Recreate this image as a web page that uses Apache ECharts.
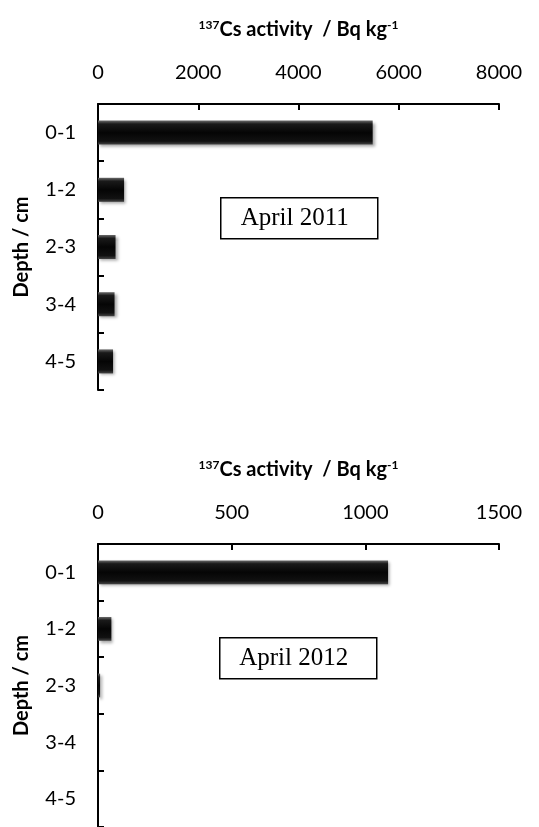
<!DOCTYPE html>
<html>
<head>
<meta charset="utf-8">
<script src="https://cdn.jsdelivr.net/npm/echarts@6/dist/echarts.min.js"></script>
<style>
html,body{margin:0;padding:0;background:#fff;}
#c{width:539px;height:827px;}
</style>
</head>
<body>
<div id="c"></div>
<script>
const depths = ['0-1', '1-2', '2-3', '3-4', '4-5'];
const activity2011 = [5480, 520, 350, 330, 300];
const activity2012 = [1085, 50, 8, 0, 0];
const ticks2011 = {min: 0, max: 8000, interval: 2000};
const ticks2012 = {min: 0, max: 1500, interval: 500};
const boxLabels = ['April 2011', 'April 2012'];

const chart = echarts.init(document.getElementById('c'));
const sans = 'Lato, "Open Sans", sans-serif';

const xTitle = {
  formatter: '{sup|137}{b|Cs activity  / Bq kg}{sup|-1}',
  rich: {
    b: {fontFamily: sans, fontWeight: 'bold', fontSize: 20, color: '#000'},
    sup: {fontFamily: sans, fontWeight: 'bold', fontSize: 12, color: '#000', verticalAlign: 'top', padding: [0, 0, 9, 0]}
  }
};

function xAxisFor(idx, t) {
  return {
    gridIndex: idx, type: 'value', position: 'top',
    min: t.min, max: t.max, interval: t.interval,
    name: xTitle.formatter, nameLocation: 'middle', nameGap: 64,
    nameTextStyle: {rich: xTitle.rich},
    axisLine: {show: true, lineStyle: {color: '#000', width: 2}},
    axisTick: {show: true, inside: true, length: 6, lineStyle: {color: '#000', width: 2}},
    axisLabel: {fontFamily: sans, fontSize: 20, color: '#000', margin: 21,
                formatter: function (v) { return String(v); }},
    splitLine: {show: false}
  };
}
function yAxisFor(idx) {
  return {
    gridIndex: idx, type: 'category', data: depths, inverse: true,
    name: 'Depth / cm', nameLocation: 'middle', nameGap: 66, nameRotate: 90,
    nameTextStyle: {fontFamily: sans, fontWeight: 'bold', fontSize: 20, color: '#000'},
    axisLine: {show: true, lineStyle: {color: '#000', width: 2}},
    axisTick: {show: true, inside: true, length: 6, lineStyle: {color: '#000', width: 2}},
    axisLabel: {fontFamily: sans, fontSize: 20, color: '#000', margin: 22},
    splitLine: {show: false}
  };
}
const barStyle = {
  color: {
    type: 'linear', x: 0, y: 0, x2: 0, y2: 1,
    colorStops: [
      {offset: 0, color: '#6a6a6a'},
      {offset: 0.14, color: '#1a1a1a'},
      {offset: 0.5, color: '#050505'},
      {offset: 0.86, color: '#111'},
      {offset: 1, color: '#444'}
    ]
  },
  shadowColor: 'rgba(0,0,0,0.35)', shadowBlur: 3, shadowOffsetX: 2, shadowOffsetY: 2
};

function box(text, x, y) {
  return {
    type: 'group', left: x, top: y,
    children: [
      {type: 'rect', shape: {x: 0, y: 0, width: 157, height: 41},
       style: {fill: '#fff', stroke: '#000', lineWidth: 1.5}},
      {type: 'text', x: 74, y: 21,
       style: {text: text, fill: '#000', font: '25px "Liberation Serif", "DejaVu Serif", serif',
               textAlign: 'center', textVerticalAlign: 'middle'}}
    ]
  };
}

chart.setOption({
  animation: false,
  backgroundColor: '#fff',
  grid: [
    {left: 98, right: 40, top: 104, height: 286},
    {left: 98, right: 40, top: 544, height: 286}
  ],
  xAxis: [xAxisFor(0, ticks2011), xAxisFor(1, ticks2012)],
  yAxis: [yAxisFor(0), yAxisFor(1)],
  series: [
    {type: 'bar', xAxisIndex: 0, yAxisIndex: 0, data: activity2011, barCategoryGap: '58%', itemStyle: barStyle},
    {type: 'bar', xAxisIndex: 1, yAxisIndex: 1, data: activity2012, barCategoryGap: '58%', itemStyle: barStyle}
  ],
  graphic: [box(boxLabels[0], 220, 197), box(boxLabels[1], 219, 637)]
});
</script>
</body>
</html>
